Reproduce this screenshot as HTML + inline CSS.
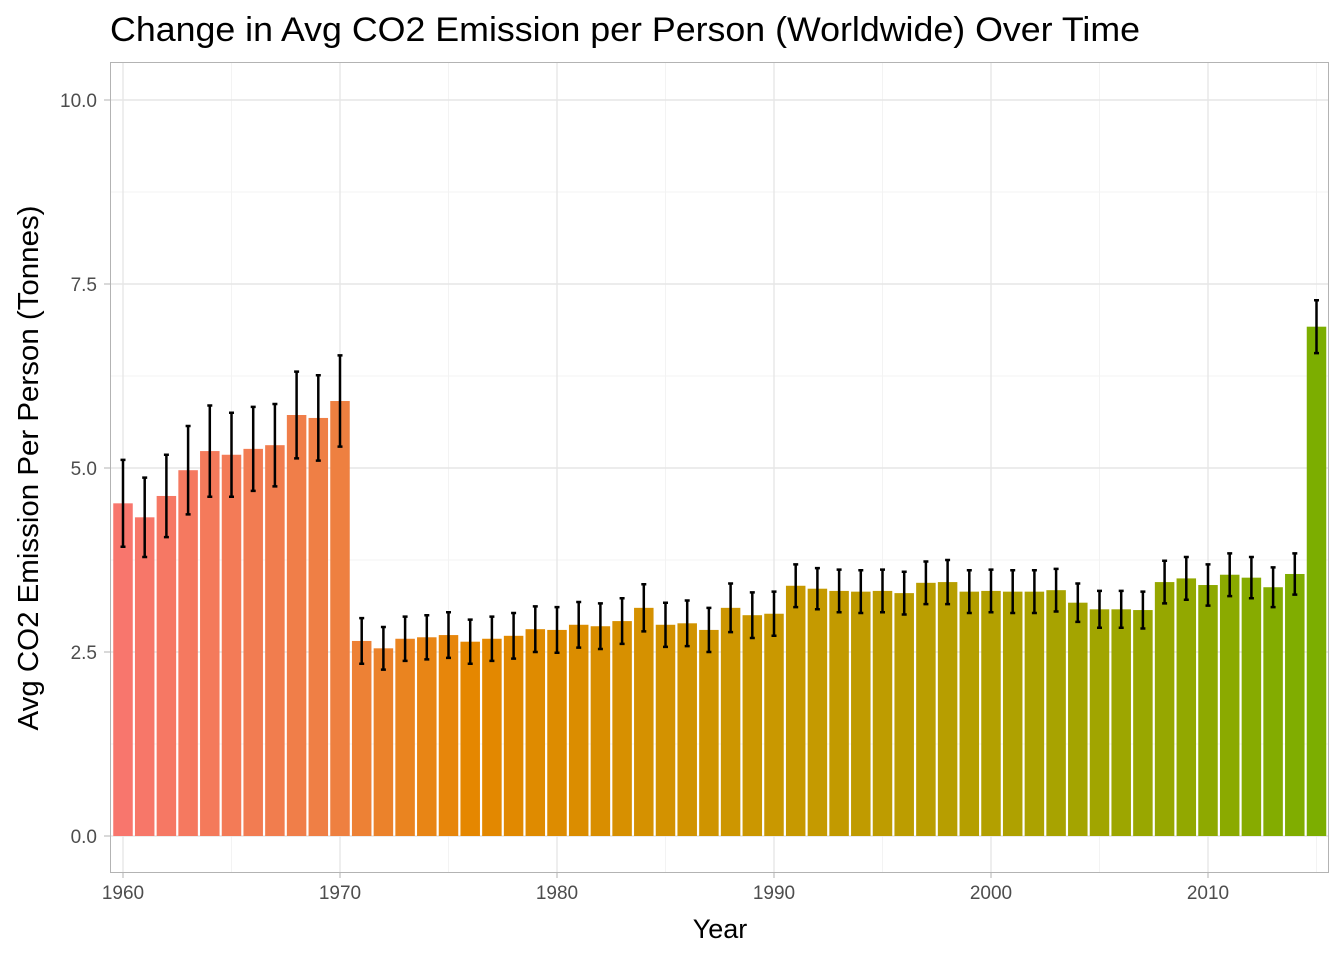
<!DOCTYPE html>
<html><head><meta charset="utf-8"><style>
body{margin:0;background:#fff;font-family:"Liberation Sans",sans-serif}
svg text{font-family:"Liberation Sans",sans-serif}
</style></head><body>
<svg id="chart" width="1344" height="960" xmlns="http://www.w3.org/2000/svg">
<text x="110" y="41" font-size="34" textLength="1030" lengthAdjust="spacingAndGlyphs" fill="#000">Change in Avg CO2 Emission per Person (Worldwide) Over Time</text>
<text x="720" y="938" font-size="27" text-anchor="middle" fill="#000">Year</text>
<text transform="translate(38,468) rotate(-90)" font-size="29" text-anchor="middle" textLength="525" lengthAdjust="spacingAndGlyphs" fill="#000">Avg CO2 Emission Per Person (Tonnes)</text>
<g id="grid"></g><g id="bars"></g><g id="errs"></g><g id="ticks"></g>
<rect x="110.5" y="62.5" width="1218" height="810" fill="none" stroke="#b3b3b3" stroke-width="1"/>
</svg>
<script>
const years=[];for(let y=1960;y<=2015;y++)years.push(y);
const values=[4.52,4.33,4.62,4.97,5.23,5.18,5.26,5.31,5.72,5.68,5.91,2.65,2.55,2.68,2.70,2.73,2.64,2.68,2.72,2.81,2.80,2.87,2.85,2.92,3.10,2.87,2.89,2.80,3.10,3.00,3.02,3.40,3.36,3.33,3.32,3.33,3.30,3.44,3.45,3.32,3.33,3.32,3.32,3.34,3.17,3.08,3.08,3.07,3.45,3.50,3.41,3.55,3.51,3.38,3.56,6.92];
const errors=[0.59,0.54,0.56,0.60,0.62,0.57,0.57,0.56,0.59,0.58,0.62,0.31,0.29,0.30,0.30,0.31,0.30,0.30,0.31,0.31,0.31,0.31,0.31,0.31,0.32,0.30,0.31,0.30,0.33,0.31,0.30,0.29,0.28,0.29,0.29,0.29,0.29,0.29,0.30,0.29,0.29,0.29,0.29,0.29,0.26,0.25,0.25,0.25,0.29,0.29,0.28,0.29,0.28,0.27,0.28,0.36];
const yTicks=[0,2.5,5,7.5,10];
const xTicks=[1960,1970,1980,1990,2000,2010];
const NS="http://www.w3.org/2000/svg";
const xs=y=>123+(y-1960)*21.7, ys=v=>836-v*73.6;
function mk(t,a,p){const e=document.createElementNS(NS,t);for(const k in a)e.setAttribute(k,a[k]);document.getElementById(p).appendChild(e);return e;}
const stops=[[1960,[248,118,109]],[1970,[238,128,64]],[1976,[229,135,0]],[1990,[201,152,0]],[2000,[179,160,0]],[2015,[124,174,0]]];
function col(y){for(let i=0;i<stops.length-1;i++){const[a,ca]=stops[i],[b,cb]=stops[i+1];if(y<=b){const t=(y-a)/(b-a);return`rgb(${ca.map((c,j)=>Math.round(c+(cb[j]-c)*t)).join(',')})`;}}}
for(let v=1.25;v<10.5;v+=2.5){const g=mk('line',{x1:110,x2:1329,y1:ys(v),y2:ys(v),stroke:'#f3f3f3','stroke-width':1},'grid');}
for(let yr=1965;yr<=2015;yr+=10){const g=mk('line',{x1:xs(yr),x2:xs(yr),y1:62,y2:872,stroke:'#f3f3f3','stroke-width':1},'grid');}
yTicks.forEach(v=>{const g=mk('line',{x1:110,x2:1329,y1:ys(v),y2:ys(v),stroke:'#e6e6e6','stroke-width':1.4},'grid');
const t=mk('text',{x:97,y:ys(v)+7,'font-size':19,'text-anchor':'end',fill:'#4d4d4d'},'ticks');t.textContent=v.toFixed(1);
const k=mk('line',{x1:104,x2:110,y1:ys(v),y2:ys(v),stroke:'#b3b3b3'},'ticks');});
xTicks.forEach(yr=>{const g=mk('line',{x1:xs(yr),x2:xs(yr),y1:62,y2:872,stroke:'#e6e6e6','stroke-width':1.4},'grid');
const t=mk('text',{x:xs(yr),y:899,'font-size':19,'text-anchor':'middle',fill:'#4d4d4d'},'ticks');t.textContent=yr;
const k=mk('line',{x1:xs(yr),x2:xs(yr),y1:872,y2:878,stroke:'#b3b3b3'},'ticks');});
years.forEach((yr,i)=>{const v=values[i],w=19.5;
const r=mk('rect',{x:xs(yr)-w/2,y:ys(v),width:w,height:ys(0)-ys(v),fill:col(yr)},'bars');


const e=errors[i],x=xs(yr);
const l=mk('path',{d:`M${x},${ys(v+e)}V${ys(v-e)}M${x-2.5},${ys(v+e)}H${x+2.5}M${x-2.5},${ys(v-e)}H${x+2.5}`,stroke:'#000','stroke-width':2.5,fill:'none'},'errs');

});
</script>
</body></html>
